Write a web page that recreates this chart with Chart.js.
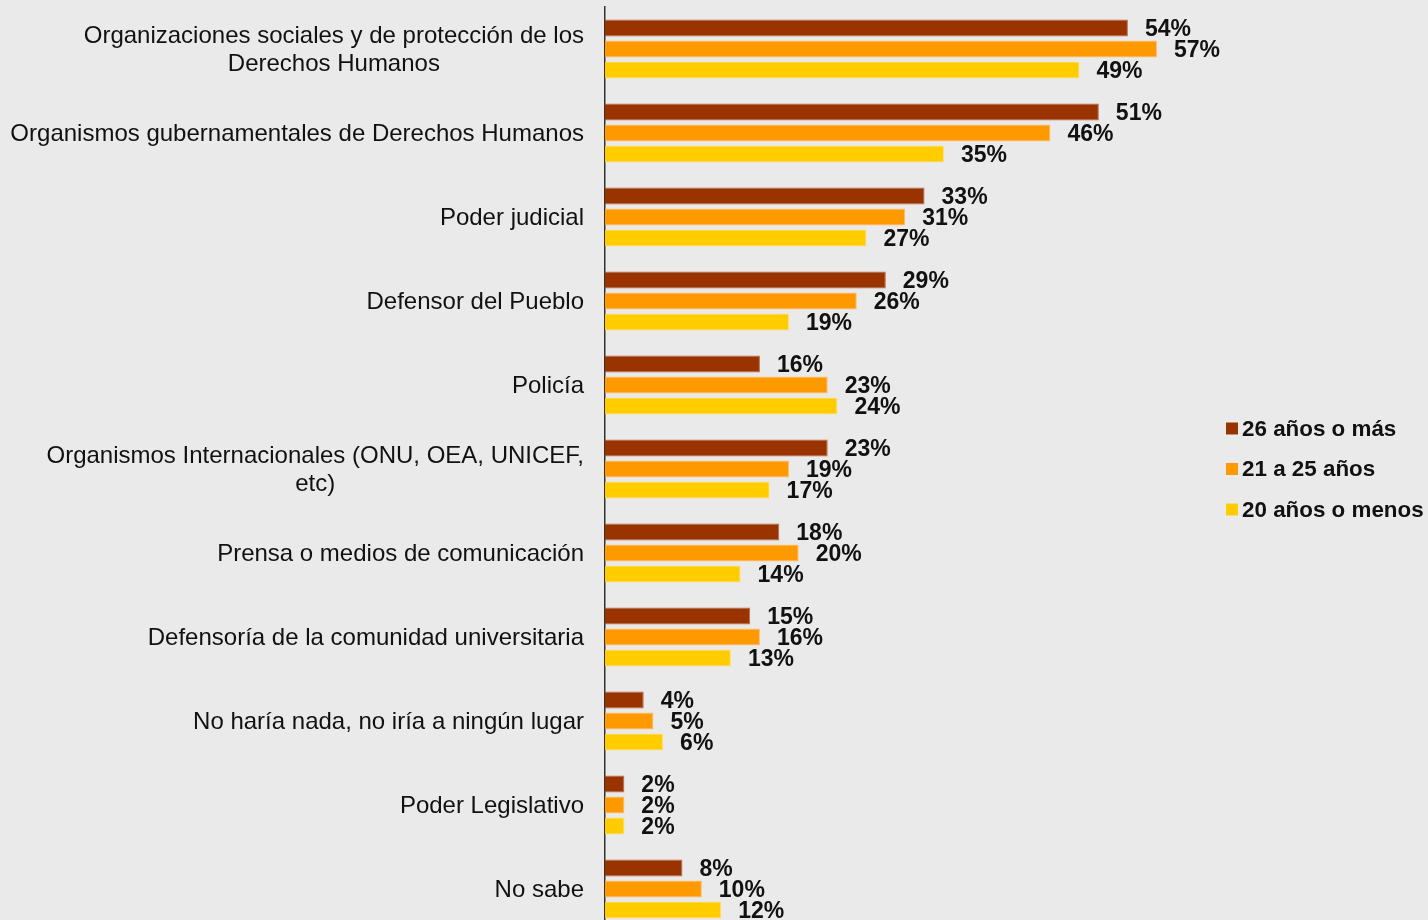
<!DOCTYPE html>
<html>
<head>
<meta charset="utf-8">
<script src="https://cdn.jsdelivr.net/npm/chart.js@4"></script>
<style>
  html, body { margin: 0; padding: 0; background: #eaeaea; overflow: hidden; }
  canvas { display: block; }
</style>
</head>
<body>
<canvas id="instituciones" width="1428" height="940"></canvas>
<script>
const categorias = [
  ['Organizaciones sociales y de protección de los', 'Derechos Humanos'],
  'Organismos gubernamentales de Derechos Humanos',
  'Poder judicial',
  'Defensor del Pueblo',
  'Policía',
  ['Organismos Internacionales (ONU, OEA, UNICEF,', 'etc)'],
  'Prensa o medios de comunicación',
  'Defensoría de la comunidad universitaria',
  'No haría nada, no iría a ningún lugar',
  'Poder Legislativo',
  'No sabe'
];

const series = ['26 años o más', '21 a 25 años', '20 años o menos'];
const mas26 = [54, 51, 33, 29, 16, 23, 18, 15, 4, 2, 8];
const de21a25 = [57, 46, 31, 26, 23, 19, 20, 16, 5, 2, 10];
const menos20 = [49, 35, 27, 19, 24, 17, 14, 13, 6, 2, 12];

const colores = ['#993300', '#ff9900', '#ffcc00'];
const bordes = ['#b86a4a', '#ffbb66', '#ffe066'];

const FONT = '"Liberation Sans", Arial, sans-serif';

// fondo gris de toda la figura
const fondo = {
  id: 'fondo',
  beforeDraw(chart) {
    const c = chart.ctx;
    c.save();
    c.fillStyle = '#eaeaea';
    c.fillRect(0, 0, chart.width, chart.height);
    c.restore();
  }
};

// etiquetas de categoría: bloque alineado a la derecha, líneas centradas entre sí
const etiquetasEje = {
  id: 'etiquetasEje',
  afterDraw(chart) {
    const c = chart.ctx;
    const y = chart.scales.y;
    const derecha = chart.chartArea.left - 21;
    const alto = 28;
    c.save();
    c.font = '24px ' + FONT;
    c.fillStyle = '#111';
    c.textBaseline = 'middle';
    c.textAlign = 'center';
    categorias.forEach((cat, i) => {
      const lineas = Array.isArray(cat) ? cat : [cat];
      const ancho = Math.max(...lineas.map(l => c.measureText(l).width));
      const cx = derecha - ancho / 2;
      const y0 = y.getPixelForValue(i) + 1 - (lineas.length - 1) * alto / 2;
      lineas.forEach((l, k) => c.fillText(l, cx, y0 + k * alto));
    });
    c.restore();
  }
};

// porcentaje al final de cada barra
const valores = {
  id: 'valores',
  afterDatasetsDraw(chart) {
    const c = chart.ctx;
    c.save();
    c.font = 'bold 23px ' + FONT;
    c.fillStyle = '#111';
    c.textAlign = 'left';
    c.textBaseline = 'middle';
    chart.data.datasets.forEach((ds, d) => {
      chart.getDatasetMeta(d).data.forEach((bar, i) => {
        c.fillText(ds.data[i] + '%', bar.x + 17, bar.y + 1.5);
      });
    });
    c.restore();
  }
};

// leyenda a la derecha, centrada respecto al área del gráfico
const leyenda = {
  id: 'leyenda',
  afterDraw(chart) {
    const c = chart.ctx;
    const area = chart.chartArea;
    const paso = 40.5;
    const x = 1226;
    const yc = (area.top + area.bottom) / 2;
    c.save();
    c.font = 'bold 22.4px ' + FONT;
    c.textBaseline = 'middle';
    c.textAlign = 'left';
    chart.data.datasets.forEach((ds, d) => {
      const y = yc + (d - 1) * paso;
      c.fillStyle = ds.backgroundColor;
      c.fillRect(x, y - 6, 12, 12);
      c.fillStyle = '#111';
      c.fillText(ds.label, x + 16, y + 1);
    });
    c.restore();
  }
};

new Chart(document.getElementById('instituciones'), {
  type: 'bar',
  data: {
    labels: categorias,
    datasets: [mas26, de21a25, menos20].map((vals, d) => ({
      label: series[d],
      data: vals,
      backgroundColor: colores[d],
      borderColor: bordes[d],
      borderWidth: 1,
      borderSkipped: 'left',
      categoryPercentage: 0.75,
      barPercentage: 0.81
    }))
  },
  options: {
    indexAxis: 'y',
    responsive: false,
    animation: false,
    layout: {
      padding: { left: 605, right: 242, top: 7, bottom: 9 }
    },
    plugins: {
      legend: { display: false },
      tooltip: { enabled: false }
    },
    scales: {
      x: {
        display: false,
        min: 0,
        max: 60
      },
      y: {
        grid: { display: false, drawTicks: false },
        ticks: { display: false },
        border: { display: true, color: '#333', width: 1.5 }
      }
    }
  },
  plugins: [fondo, etiquetasEje, valores, leyenda]
});
</script>
</body>
</html>
